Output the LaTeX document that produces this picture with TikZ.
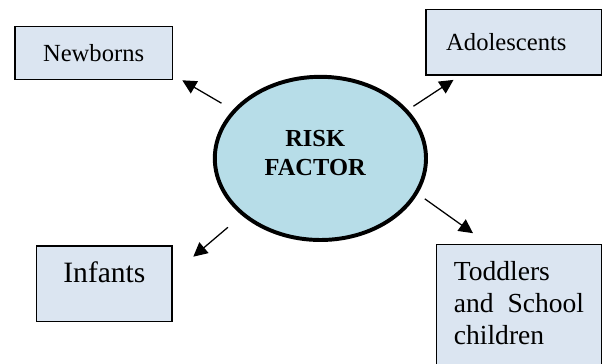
\documentclass[tikz,border=0pt]{standalone}
\usepackage{fontspec}
\setmainfont{Liberation Serif}
\usetikzlibrary{shapes.geometric,arrows.meta}
\definecolor{boxfill}{HTML}{DBE5F1}
\definecolor{riskfill}{HTML}{B7DDE8}

\begin{document}
\begin{tikzpicture}[
    >={Triangle[length=0.35cm,width=0.35cm]},
    block/.style={
        draw,
        rectangle,
        fill=boxfill,
        line width=1pt
    },
    risk/.style={
        draw,
        ellipse,
        fill=riskfill,
        line width=2.8pt,
        minimum width=5.28cm,
        minimum height=4.08cm,
        inner sep=0pt,
        text width=3cm,
        align=center,
        font=\bfseries\fontsize{17.4pt}{20.8pt}\selectfont
    },
    arrow/.style={->, line width=0.9pt}
]

\useasboundingbox (0,0) rectangle (15.1,-9.1);
\clip (0,0) rectangle (15.1,-9.1);

\node[risk, text height=0.41cm, text depth=1.0cm] (rf) at (8.01,-3.96)
      {RISK\kern0.26cm\\FACTOR\kern0.26cm};

\node[block, minimum width=3.94cm, minimum height=1.32cm,
      font=\fontsize{17.5pt}{21pt}\selectfont] (nb) at (2.34,-1.33) {Newborns};
\node[block, minimum height=1.64cm, inner xsep=0.51cm, text width=3.37cm, align=left,
      font=\fontsize{17.5pt}{21pt}\selectfont] (ad) at (12.84,-1.06) {Adolescents};
\node[block, minimum width=3.39cm, minimum height=1.89cm, text depth=0.575cm,
      font=\fontsize{21pt}{25pt}\selectfont] (inf) at (2.61,-7.09) {Infants};
\node[block, anchor=north west, inner xsep=0.43cm, inner ysep=0.43cm, text width=3.255cm,
      align=left, text height=0.47cm, text depth=2.6cm,
      font=\fontsize{19.6pt}{22.8pt}\selectfont] (tod) at (10.9,-6.1)
      {Toddlers\\and\hspace{\fill}School\\children};

\draw[arrow, shorten <=0.33cm] (rf.151) -- ([xshift=0.23cm]nb.south east);
\draw[arrow, shorten <=0.165cm] (rf.29) -- ([xshift=0.71cm,yshift=-0.1cm]ad.south west);
\draw[arrow, shorten <=0.455cm] (rf.216) -- ([xshift=0.51cm,yshift=-0.29cm]inf.north east);
\draw[arrow, shorten <=0.215cm] (rf.340) -- ([xshift=0.925cm,yshift=0.27cm]tod.north west);

\end{tikzpicture}
\end{document}
